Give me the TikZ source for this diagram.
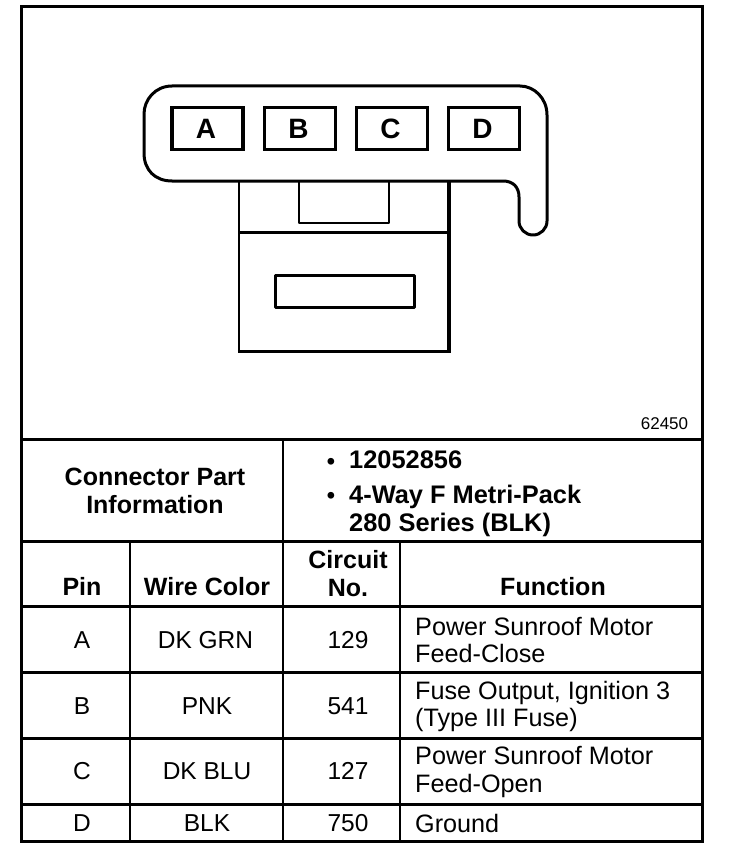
\documentclass[tikz,border=0pt]{standalone}
\usepackage{fontspec}
\setmainfont{Liberation Sans}
\tikzset{
  outerline/.style={line width=3pt,draw=black},
  ruleline/.style={line width=3pt,draw=black},
  vrule/.style={line width=2.4pt,draw=black},
  outline/.style={line width=3pt,draw=black,line join=round},
  thinoutline/.style={line width=2.4pt,draw=black,line join=round},
  pinbox/.style={draw=black,line width=3.2pt,minimum width=71pt,minimum height=42pt,inner sep=0pt,font=\fontsize{28}{28}\selectfont\bfseries},
  cellt/.style={inner sep=0pt,font=\fontsize{24.5}{27}\selectfont,anchor=center,align=center},
  headt/.style={inner sep=0pt,font=\fontsize{25}{28}\selectfont\bfseries,anchor=center,align=center},
  funct/.style={inner sep=0pt,font=\fontsize{25.2}{27.5}\selectfont,anchor=west,align=left},
  infot/.style={inner sep=0pt,font=\fontsize{25.4}{28}\selectfont\bfseries,anchor=west,align=left},
}
\begin{document}
\begin{tikzpicture}[x=1pt,y=-1pt]
\useasboundingbox (0,0) rectangle (736,864);
% connector drawing
\draw[thinoutline] (239,181) -- (239,351);
\draw[outline] (237.8,351) -- (449,351);
\draw[line width=3.6pt,draw=black] (449,352.5) -- (449,181);
\draw[outline] (239,232) -- (449,232);
\draw[thinoutline] (299,181) -- (299,223) -- (389,223) -- (389,181);
\draw[outline] (275,275) rectangle (414,307);
\draw[outline] (172,86)
  .. controls (155,86) and (144,100) .. (144,114)
  -- (144,153)
  .. controls (144,170) and (155,181) .. (172,181)
  -- (503,181)
  .. controls (513,181) and (519,187) .. (519,197)
  -- (519,221)
  arc[start angle=180,end angle=0,radius=14]
  -- (547,115)
  .. controls (547,98) and (534,86) .. (520,86)
  -- cycle;
\node[pinbox] (pa) at (207.5,128.5) {A\kern3pt};
\node[pinbox] (pb) at (300,128.5) {B\kern3pt};
\node[pinbox] (pc) at (392,128.5) {C\kern3pt};
\node[pinbox] (pd) at (484,128.5) {D\kern3pt};
\node[inner sep=0pt,font=\fontsize{17}{18}\selectfont] (fig) at (664.5,424) {62450};
% table
\draw[outerline] (21,7) rectangle (702,841);
\draw[outerline] (21,439) -- (702,439);
\draw[ruleline] (21,541) -- (702,541);
\draw[ruleline] (21,606) -- (702,606);
\draw[ruleline] (21,672) -- (702,672);
\draw[ruleline] (21,738) -- (702,738);
\draw[ruleline] (21,804) -- (702,804);
\draw[vrule] (283,439) -- (283,841);
\draw[vrule] (130,541) -- (130,841);
\draw[vrule] (400,541) -- (400,841);
% header
\node[headt] (cpi) at (155,491) {Connector Part\\Information};
\node[inner sep=0pt,font=\fontsize{23.5}{28}\selectfont\bfseries] (b1) at (331,464) {•};
\node[inner sep=0pt,font=\fontsize{23.5}{28}\selectfont\bfseries] (b2) at (331,498) {•};
\node[infot] (part) at (349,460) {12052856};
\node[infot] (type) at (349,510.5) {4-Way F Metri-Pack\\280 Series (BLK)};
\node[headt] (hpin) at (82,586.5) {Pin};
\node[headt] (hwire) at (207,587) {Wire Color};
\node[headt] (hcirc) at (348,574) {Circuit\\No.};
\node[headt] (hfunc) at (553,587) {Function};
% rows
\node[cellt] (ra) at (82,640) {A};
\node[cellt] (wa) at (205.5,640) {DK GRN};
\node[cellt] (ca) at (348,640) {129};
\node[funct] (fa) at (415,640) {Power Sunroof Motor\\Feed-Close};
\node[cellt] (rb) at (82,706) {B};
\node[cellt] (wb) at (207,706) {PNK};
\node[cellt] (cb) at (348,706) {541};
\node[funct] (fb) at (415,706.5) {Fuse Output, Ignition 3\\(Type III Fuse)};
\node[cellt] (rc) at (82,771) {C};
\node[cellt] (wc) at (207,771) {DK BLU};
\node[cellt] (cc) at (348,771) {127};
\node[funct] (fc) at (415,772) {Power Sunroof Motor\\Feed-Open};
\node[cellt] (rd) at (82,823) {D};
\node[cellt] (wd) at (207,823) {BLK};
\node[cellt] (cd) at (348,823) {750};
\node[funct] (fd) at (415,823) {Ground};
\end{tikzpicture}
\end{document}
